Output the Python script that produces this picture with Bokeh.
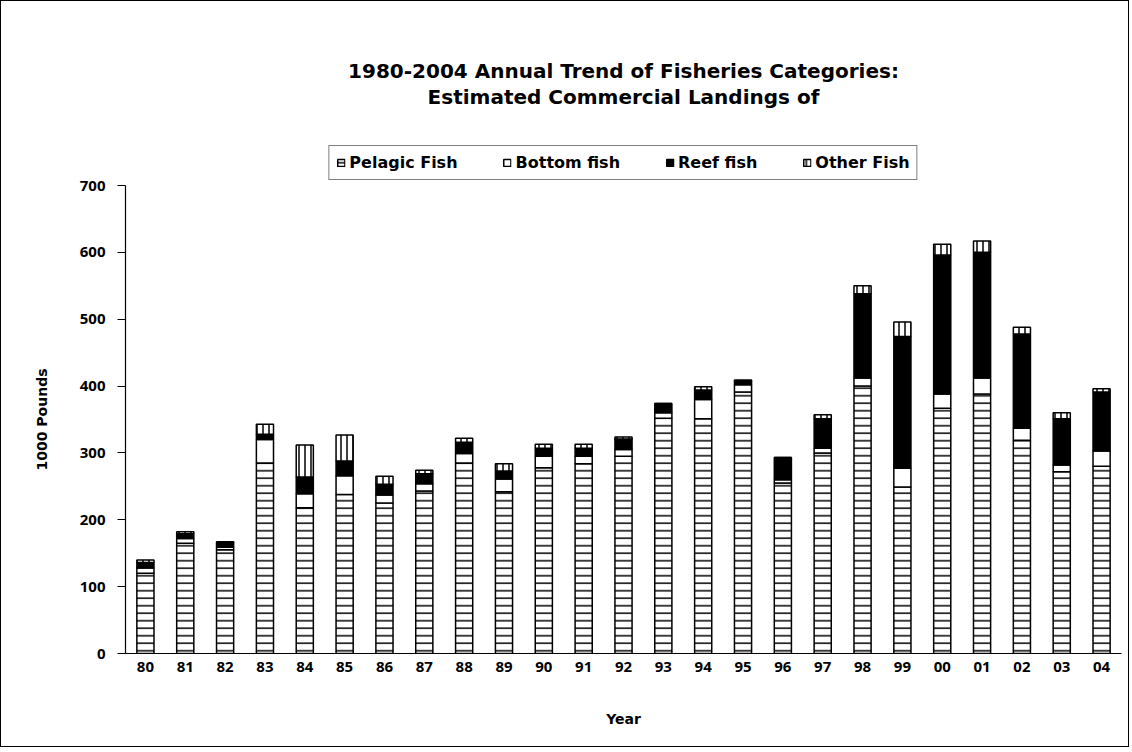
from bokeh.plotting import figure
from bokeh.models import (FactorRange, Range1d, Legend, LegendItem, Title,
                          FixedTicker)
from bokeh.embed import file_html
from bokeh.resources import INLINE

years = ["80", "81", "82", "83", "84", "85", "86", "87", "88", "89", "90", "91",
         "92", "93", "94", "95", "96", "97", "98", "99", "00", "01", "02", "03", "04"]
pelagic = [120, 165, 155, 285, 218, 238, 225, 243, 285, 242, 278, 284, 295,
           352, 351, 391, 255, 300, 400, 249, 367, 388, 319, 272, 280]
bottom = [8, 7, 4, 35, 21, 28, 12, 11, 14, 19, 17, 11, 10,
          8, 29, 11, 5, 7, 12, 28, 21, 24, 18, 10, 23]
reef = [8, 7, 7, 8, 25, 22, 16, 15, 17, 12, 12, 12, 16,
        14, 14, 6, 33, 44, 126, 197, 208, 188, 141, 69, 88]
other = [4, 3, 1, 15, 48, 39, 12, 5, 6, 11, 6, 6, 3,
         0, 5, 1, 0, 6, 12, 22, 16, 17, 10, 9, 5]
series_names = ["Pelagic Fish", "Bottom fish", "Reef fish", "Other Fish"]
y_ticks = [0, 100, 200, 300, 400, 500, 600, 700]

data = {"year": years, "pelagic": pelagic, "bottom": bottom,
        "reef": reef, "other": other}

FONT = "DejaVu Sans"
TICK_FONT = "Noto Sans"
Y_TOP = 700 * 545 / 468   # frame extends above 700 to hold the legend

p = figure(x_range=FactorRange(*years, range_padding=0),
           y_range=Range1d(0, Y_TOP),
           width=1129, height=747, output_backend="svg", toolbar_location=None,
           min_border_left=124, min_border_right=9, min_border_top=107,
           min_border_bottom=95)
p.styles = {"border": "1px solid black"}
p.outline_line_color = None
p.background_fill_color = "white"
p.border_fill_color = "white"
p.xgrid.grid_line_color = None
p.ygrid.grid_line_color = None

renderers = p.vbar_stack(
    ["pelagic", "bottom", "reef", "other"], x="year", width=0.43, source=data,
    fill_color=["white", "white", "black", "white"],
    line_color="black", line_width=1.5,
    hatch_pattern=["horizontal_line", " ", " ", "vertical_line"],
    hatch_color="black", hatch_weight=1.5,
    hatch_scale=[7.5, 7, 7, 6])

legend = Legend(items=[LegendItem(label=n, renderers=[r])
                       for n, r in zip(series_names, renderers)],
                orientation="horizontal", location="top_center",
                label_text_font=FONT, label_text_font_style="bold",
                label_text_font_size="16px", label_text_color="black",
                glyph_width=9, glyph_height=9,
                label_height=18, label_standoff=4, spacing=45, padding=7,
                margin=37, border_line_color="black", border_line_width=1,
                background_fill_color="white", background_fill_alpha=1)
p.add_layout(legend, "center")

p.add_layout(Title(text="Estimated Commercial Landings of", align="center",
                   text_font=FONT, text_font_style="bold", text_color="black",
                   text_font_size="20px", standoff=0), "above")
p.add_layout(Title(text="1980-2004 Annual Trend of Fisheries Categories:",
                   align="center", text_font=FONT, text_font_style="bold",
                   text_color="black", text_font_size="20px", standoff=0),
             "above")

# y-axis title, placed so it is centred on the 0-700 span
p.add_layout(Title(text="1000 Pounds", align="left", vertical_align="middle",
                   offset=183, text_font=FONT, text_font_style="bold",
                   text_color="black", text_font_size="14px", standoff=52),
             "left")

for ax in (p.xaxis[0], p.yaxis[0]):
    ax.axis_line_color = "black"
    ax.axis_line_width = 1.2
    ax.major_label_text_font = TICK_FONT
    ax.major_label_text_font_style = "bold"
    ax.major_label_text_font_size = "15px"
    ax.major_label_text_color = "black"
    ax.axis_label_text_font = FONT
    ax.axis_label_text_font_style = "bold"
    ax.axis_label_text_font_size = "14px"
    ax.axis_label_text_color = "black"
    ax.minor_tick_line_color = None

p.xaxis.axis_label = "Year"
p.xaxis.major_tick_line_color = None
p.xaxis.major_label_standoff = 2
p.xaxis.axis_label_standoff = 36

p.yaxis.bounds = (0, 700)
p.yaxis.ticker = FixedTicker(ticks=y_ticks)
p.yaxis.major_tick_in = 0
p.yaxis.major_tick_out = 8
p.yaxis.major_tick_line_color = "black"
p.yaxis.major_tick_line_width = 1.2
p.yaxis.major_label_standoff = 12

open("out.html", "w").write(file_html(p, INLINE))
